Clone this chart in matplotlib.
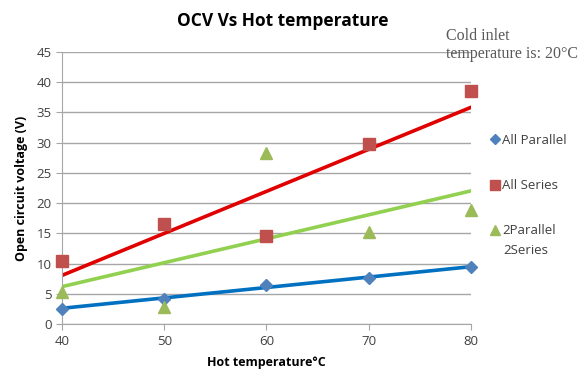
import matplotlib.pyplot as plt
from matplotlib.lines import Line2D
import numpy as np

hot_temp = [40, 50, 60, 70, 80]
all_parallel = [2.5, 4.2, 6.5, 7.6, 9.4]
all_series = [10.4, 16.5, 14.5, 29.8, 38.5]
p2s2 = [5.3, 2.8, 28.3, 15.2, 18.9]
y_ticks = list(range(0, 50, 5))

plt.rcParams["font.family"] = ["Open Sans", "DejaVu Sans"]

fig = plt.figure(figsize=(5.85, 3.81), dpi=100)
ax = fig.add_axes([0.106, 0.1496, 0.699, 0.714])

series = [
    ("All Parallel", all_parallel, "D", "#4F81BD", "#0070C0", 6),
    ("All Series", all_series, "s", "#C0504D", "#E00000", 8),
    ("2Parallel", p2s2, "^", "#9BBB59", "#92D050", 8),
]
x = np.array(hot_temp)
handles = []
for label, y, mk, mc, lc, ms in series:
    # linear trendline through each series
    k, b = np.polyfit(x, y, 1)
    ax.plot(x, k * x + b, color=lc, lw=2.6, zorder=2)
    ax.plot(x, y, ls="none", marker=mk, color=mc, ms=ms, zorder=3, clip_on=False)
    handles.append(Line2D([], [], ls="none", marker=mk, color=mc, ms=ms - 1, label=label))

ax.set_xlim(40, 80)
ax.set_ylim(0, 45)
ax.set_xticks(hot_temp)
ax.set_yticks(y_ticks)
ax.yaxis.grid(True, color="#A6A6A6", lw=1)
ax.set_axisbelow(True)
for s in ["top", "right"]:
    ax.spines[s].set_visible(False)
ax.spines["left"].set_color("#A6A6A6")
ax.spines["bottom"].set_color("#A6A6A6")
ax.tick_params(colors="#A6A6A6", labelcolor="#404040", labelsize=9.5, length=4)
ax.tick_params(axis="x", pad=4)

ax.set_xlabel("Hot temperature°C", fontsize=9, fontweight="bold", labelpad=6)
ax.set_ylabel("Open circuit voltage (V)", fontsize=9, fontweight="bold", labelpad=6)
fig.text(0.484, 0.945, "OCV Vs Hot temperature", ha="center", va="center",
         fontsize=12.5, fontweight="bold")
fig.text(0.762, 0.927, "Cold inlet\ntemperature is: 20°C", ha="left", va="top",
         fontsize=11.5, color="#595959", family=["Liberation Serif", "DejaVu Serif"],
         linespacing=1.15)

fig.legend(handles=handles, loc="upper left", bbox_to_anchor=(0.815, 0.68),
           frameon=False, fontsize=9.5, handletextpad=0.1, handlelength=0.9,
           labelspacing=2.45, labelcolor="#404040")
fig.text(0.86, 0.343, "2Series", ha="left", va="center", fontsize=9.5, color="#404040")

fig.savefig("out.png", dpi=100)
